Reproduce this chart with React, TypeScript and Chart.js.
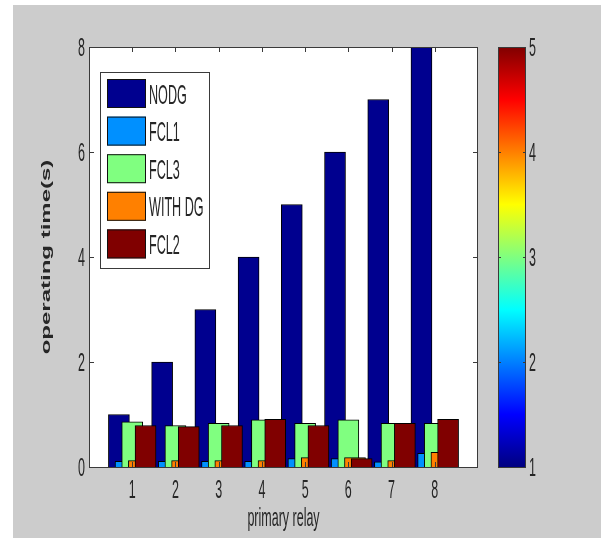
import React, { useEffect, useRef } from "react";
import { Chart, registerables } from "chart.js";

Chart.register(...registerables);

// ---- data ----
const categories = [1, 2, 3, 4, 5, 6, 7, 8];
const seriesNames = ["NODG", "FCL1", "FCL3", "WITH DG", "FCL2"];
const noDG = [1, 2, 3, 4, 5, 6, 7, 8];
const fcl1 = [0.11, 0.11, 0.11, 0.11, 0.16, 0.16, 0.1, 0.26];
const fcl3 = [0.86, 0.79, 0.83, 0.9, 0.83, 0.9, 0.83, 0.83];
const withDG = [0.12, 0.12, 0.12, 0.12, 0.18, 0.18, 0.12, 0.28];
const fcl2 = [0.79, 0.77, 0.79, 0.91, 0.79, 0.16, 0.83, 0.91];
const seriesValues = [noDG, fcl1, fcl3, withDG, fcl2];
const seriesColors = ["#00008f", "#0090ff", "#80ff80", "#ff8000", "#800000"];
const yTicks = [0, 2, 4, 6, 8];
const colorbarTicks = [1, 2, 3, 4, 5];
const xTitle = "primary relay";
const yTitle = "operating time(s)";

const FONT = "'Liberation Sans', Arial, sans-serif";
const TEXT = "#262626";
const AXIS = "#3a3a3a";

function squeezed(
  ctx: CanvasRenderingContext2D,
  text: string,
  x: number,
  y: number,
  size: number,
  sx: number,
  align: CanvasTextAlign,
  bold = false
) {
  ctx.save();
  ctx.translate(x, y);
  ctx.scale(sx, 1);
  ctx.font = `${bold ? "bold " : ""}${size}px ${FONT}`;
  ctx.textAlign = align;
  ctx.textBaseline = "alphabetic";
  ctx.fillStyle = TEXT;
  ctx.fillText(text, 0, 0);
  ctx.restore();
}

const figurePlugin = {
  id: "matlabFigure",
  beforeDraw(chart: any) {
    const { ctx, width, height, chartArea: a } = chart;
    ctx.save();
    ctx.fillStyle = "#ffffff";
    ctx.fillRect(0, 0, width, height);
    ctx.fillStyle = "#cccccc";
    ctx.fillRect(13, 5, width - 13, height - 5);
    ctx.fillStyle = "#ffffff";
    ctx.fillRect(a.left, a.top, a.right - a.left, a.bottom - a.top);
    ctx.restore();
  },
  afterDatasetsDraw(chart: any) {
    const { ctx, chartArea: a } = chart;
    const xs = chart.scales.x;
    const ys = chart.scales.y;
    ctx.save();
    // axes box
    ctx.strokeStyle = AXIS;
    ctx.lineWidth = 1;
    ctx.strokeRect(a.left + 0.5, a.top + 0.5, a.right - a.left - 1, a.bottom - a.top);
    // inward ticks
    ctx.beginPath();
    categories.forEach((c) => {
      const px = Math.round(xs.getPixelForValue(c)) + 0.5;
      ctx.moveTo(px, a.bottom);
      ctx.lineTo(px, a.bottom - 5);
      ctx.moveTo(px, a.top);
      ctx.lineTo(px, a.top + 5);
    });
    yTicks.forEach((t) => {
      const py = Math.round(ys.getPixelForValue(t)) + 0.5;
      ctx.moveTo(a.left, py);
      ctx.lineTo(a.left + 5, py);
      ctx.moveTo(a.right, py);
      ctx.lineTo(a.right - 5, py);
    });
    ctx.stroke();
    // tick labels
    categories.forEach((c) => {
      squeezed(ctx, String(c), xs.getPixelForValue(c), a.bottom + 31, 25, 0.5, "center");
    });
    yTicks.forEach((t) => {
      squeezed(ctx, String(t), a.left - 4, ys.getPixelForValue(t) + 9, 25, 0.5, "right");
    });
    // axis titles
    squeezed(ctx, xTitle, (a.left + a.right) / 2, a.bottom + 59, 25, 0.5, "center");
    ctx.save();
    ctx.translate(a.left - 39, (a.top + a.bottom) / 2);
    ctx.scale(0.5, 1);
    ctx.rotate(-Math.PI / 2);
    ctx.font = `bold 24px ${FONT}`;
    ctx.textAlign = "center";
    ctx.textBaseline = "alphabetic";
    ctx.fillStyle = TEXT;
    ctx.fillText(yTitle, 0, 0);
    ctx.restore();

    // legend
    const lx = a.left + 11;
    const ly = a.top + 25;
    const lw = 109;
    const lh = 196;
    ctx.fillStyle = "#ffffff";
    ctx.fillRect(lx, ly, lw, lh);
    ctx.strokeStyle = AXIS;
    ctx.strokeRect(lx + 0.5, ly + 0.5, lw, lh);
    seriesNames.forEach((name, i) => {
      const cy = ly + 21.5 + i * 37.6;
      ctx.fillStyle = seriesColors[i];
      ctx.fillRect(lx + 7, cy - 14.5, 39, 29);
      ctx.strokeStyle = "#111";
      ctx.strokeRect(lx + 7.5, cy - 14, 38, 28);
      squeezed(ctx, name, lx + 49, cy + 10, 28, 0.45, "left");
    });

    // colorbar
    const cbL = a.right + 20;
    const cbW = 28;
    const cbT = a.top;
    const cbB = a.bottom;
    const g = ctx.createLinearGradient(0, cbB, 0, cbT);
    g.addColorStop(0, "#000080");
    g.addColorStop(0.125, "#0000ff");
    g.addColorStop(0.375, "#00ffff");
    g.addColorStop(0.625, "#ffff00");
    g.addColorStop(0.875, "#ff0000");
    g.addColorStop(1, "#800000");
    ctx.fillStyle = g;
    ctx.fillRect(cbL, cbT, cbW, cbB - cbT);
    ctx.strokeStyle = AXIS;
    ctx.strokeRect(cbL + 0.5, cbT + 0.5, cbW - 1, cbB - cbT);
    const cmin = colorbarTicks[0];
    const cmax = colorbarTicks[colorbarTicks.length - 1];
    ctx.beginPath();
    colorbarTicks.forEach((t) => {
      const py = Math.round(cbB - ((t - cmin) / (cmax - cmin)) * (cbB - cbT)) + 0.5;
      ctx.moveTo(cbL, py);
      ctx.lineTo(cbL + 3, py);
      ctx.moveTo(cbL + cbW, py);
      ctx.lineTo(cbL + cbW - 3, py);
    });
    ctx.stroke();
    colorbarTicks.forEach((t) => {
      const py = cbB - ((t - cmin) / (cmax - cmin)) * (cbB - cbT);
      squeezed(ctx, String(t), cbL + cbW + 3, py + 9, 25, 0.5, "left");
    });
    ctx.restore();
  },
};

const GROUP_STEP = 0.154;

export default function App() {
  const ref = useRef<HTMLCanvasElement | null>(null);
  useEffect(() => {
    document.body.style.margin = "0";
    if (!ref.current) return;
    const datasets = seriesNames.map((name, k) => ({
      label: name,
      data: categories.map((c, i) => ({ x: c + (k - 2) * GROUP_STEP, y: seriesValues[k][i] })),
      backgroundColor: seriesColors[k],
      borderColor: "#000000",
      borderWidth: 1,
      barThickness: 21,
      grouped: false,
      order: seriesNames.length - k,
    }));
    const chart = new Chart(ref.current, {
      type: "bar",
      data: { datasets } as any,
      options: {
        animation: false,
        responsive: false,
        events: [],
        layout: { padding: { left: 89, top: 47, right: 123, bottom: 71 } },
        scales: {
          x: { type: "linear", min: 0, max: 9, offset: false, display: false },
          y: { type: "linear", min: 0, max: 8, display: false },
        },
        plugins: { legend: { display: false }, tooltip: { enabled: false } },
      } as any,
      plugins: [figurePlugin as any],
    });
    return () => chart.destroy();
  }, []);
  return (
    <div style={{ width: 601, height: 538 }}>
      <canvas ref={ref} width={601} height={538} style={{ display: "block" }} />
    </div>
  );
}
